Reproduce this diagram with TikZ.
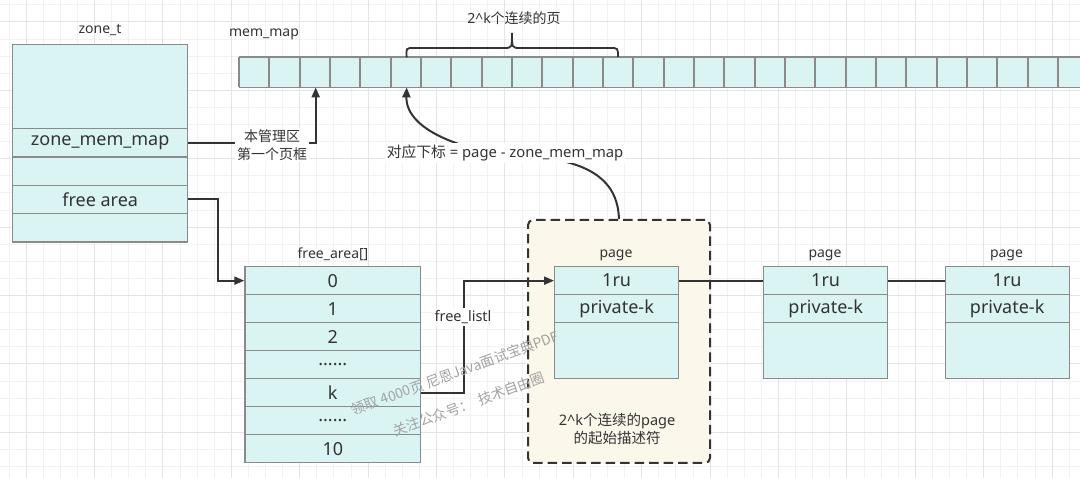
\documentclass[tikz,border=0pt]{standalone}
\usepackage{fontspec}
\setmainfont{Noto Sans}
\newfontfamily\cjk{Noto Sans CJK SC}
\usetikzlibrary{arrows.meta,calc}
\definecolor{boxfill}{HTML}{DAF3F3}
\definecolor{boxline}{HTML}{8A8A8A}
\definecolor{ink}{HTML}{333333}
\definecolor{cream}{HTML}{FBF7EA}
\definecolor{gridmin}{HTML}{F2F2F2}
\definecolor{gridmaj}{HTML}{E4E4E4}
\definecolor{wmark}{HTML}{A3A3A3}
\newcommand\sixdots{.\kern0pt.\kern0pt.\kern0pt.\kern0pt.\kern0pt.}
\begin{document}
\begin{tikzpicture}[x=1pt,y=-1pt,
  cellbox/.style={draw=boxline, fill=boxfill, line width=1.3pt, inner sep=0pt, anchor=north west, text=ink, font=\fontsize{18}{20}\selectfont},
  memcell/.style={fill=boxfill, inner sep=0pt, anchor=north west, minimum width=31pt, minimum height=30pt},
  lbl/.style={text=ink, inner sep=1pt, font=\fontsize{14}{17}\selectfont},
  conn/.style={draw=ink, line width=2pt},
  tipend/.style={-{Triangle[length=10pt,width=8pt]}},
  wm/.style={rotate=20, text=wmark, font=\cjk\fontsize{14}{15}\selectfont}
]
\useasboundingbox (0,0) rectangle (1080,478);
\fill[white] (0,0) rectangle (1080,478);
% grid
\foreach \i in {0,...,62} \draw[gridmin, line width=0.8pt] ({8.9+17.1*\i},0) -- ({8.9+17.1*\i},478);
\foreach \j in {0,...,27} \draw[gridmin, line width=0.8pt] (0,{4.8+17.1*\j}) -- (1080,{4.8+17.1*\j});
\foreach \i in {0,...,15} \draw[gridmaj, line width=0.8pt] ({26+68.4*\i},0) -- ({26+68.4*\i},478);
\foreach \j in {0,...,6} \draw[gridmaj, line width=0.8pt] (0,{21.9+68.4*\j}) -- (1080,{21.9+68.4*\j});

% zone_t
\node[lbl] (ztl) at (100,30) {zone\_t};
\node[cellbox, minimum width=175pt, minimum height=84pt] (zt0) at (12,44) {};
\node[cellbox, minimum width=175pt, minimum height=28.3pt] (zmm) at (12,128) {zone\_mem\_map};
\node[cellbox, minimum width=175pt, minimum height=28.3pt] (zt2) at (12,156.3) {};
\node[cellbox, minimum width=175pt, minimum height=28.3pt] (zfa) at (12,184.7) {free area};
\node[cellbox, minimum width=175pt, minimum height=28.3pt] (zt4) at (12,213) {};

% mem_map
\node[lbl] (mml) at (264,34) {mem\_map};
\foreach \i in {0,...,27}
  \node[memcell] (c\i) at ({round(239+30.33*\i)},57) {};
\draw[boxline, line width=1.6pt] (c0.north west) -- (c27.north east);
\draw[boxline, line width=1.6pt] (c0.south west) -- (c27.south east);
\foreach \i in {0,...,27}
  \draw[boxline, line width=1.6pt] (c\i.north west) -- (c\i.south west);

% brace
\draw[conn, line width=1.8pt] (c5.south) ++(0,-30) .. controls (406,48) .. (414,48) -- (504,48)
  .. controls (512,48) .. (512,33) .. controls (512,48) .. (520,48) -- (610,48)
  .. controls (618,48) .. (618,57);
\node[lbl] (brl) at (514,18) {2\textasciicircum k{\cjk 个连续的页}};

% free_area
\node[lbl] (fal) at (333,254) {free\_area[]};
\foreach \t [count=\k from 0] in {0,1,2,\sixdots,k,\sixdots,10}
  \node[cellbox, minimum width=175.7pt, minimum height=28pt] (r\k) at (244.3,{266+28*\k}) {\t};

% dashed group
\node[draw=ink, fill=cream, dash pattern=on 9.5pt off 5pt, rounded corners=5pt, line width=2pt,
  minimum width=182pt, minimum height=243pt, anchor=north west, inner sep=0pt] (dbox) at (527,219) {};
\node[lbl, align=center, font=\fontsize{14.5}{18}\selectfont] (dtxt) at (617,429) {2\textasciicircum k{\cjk 个连续的}page\\{\cjk 的起始描述符}};

% pages
\foreach \n/\x in {1/554,2/763,3/944.5} {
  \node[lbl] (pl\n) at ({\x+62},255) {page};
  \node[cellbox, minimum width=124pt, minimum height=28pt] (p\n a) at (\x,266) {1ru};
  \node[cellbox, minimum width=124pt, minimum height=28pt] (p\n b) at (\x,294) {private-k};
  \node[cellbox, minimum width=124pt, minimum height=56pt] (p\n c) at (\x,322) {};
}

% connectors
\draw[conn, tipend] (zmm.east) -| (c2.south);
\draw[conn, tipend] (zfa.east) -- ++(30,0) |- (r0.west);
\draw[conn, tipend] (r4.east) -- ++(43,0) |- (p1a.west);
\draw[conn] (p1a.east) -- (p2a.west);
\draw[conn] (p2a.east) -- (p3a.west);
\draw[conn, tipend] (dbox.north) .. controls (618,188) and (600,167) .. (552,159)
  -- (468,147) .. controls (418,132) and (406,112) .. (c5.south);

% connector labels
\node[lbl, fill=white, align=center, font=\cjk\fontsize{14}{18}\selectfont, inner sep=2pt] (l1) at (272,145) {本管理区\\第一个页框};
\node[lbl, fill=white, inner sep=2pt, font=\fontsize{14.8}{17}\selectfont] (l2) at (505,153) {{\cjk 对应下标} = page - zone\_mem\_map};
\node[lbl, fill=white, inner sep=2pt, font=\fontsize{14.5}{17}\selectfont] (l3) at (463,317) {free\_listl};

% watermark
\node[wm] (wm1) at (455,373) {领取 4000页 尼恩Java面试宝典PDF};
\node[wm] (wm2) at (469,404) {关注公众号：\ \ 技术自由圈};
\end{tikzpicture}
\end{document}
